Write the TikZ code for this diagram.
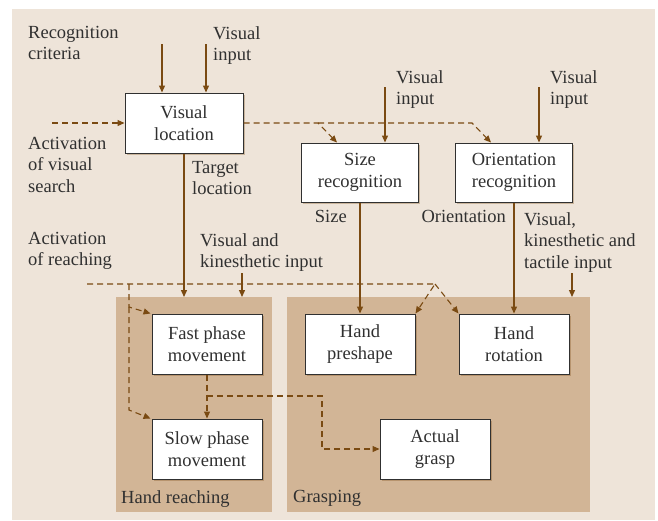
\documentclass[tikz,border=0pt]{standalone}
\usepackage{fontspec}
\setmainfont{Liberation Serif}
\usetikzlibrary{arrows.meta,shadows,positioning}
\definecolor{bgbeige}{HTML}{EEE4D9}
\definecolor{paneltan}{HTML}{D2B596}
\definecolor{arrowbrown}{HTML}{7A4A12}
\definecolor{txtgray}{HTML}{303030}

\begin{document}
\begin{tikzpicture}[x=1pt,y=-1pt,
	font=\fontsize{18.5}{21.5}\selectfont, text=txtgray,
	box/.style={draw=txtgray, line width=1pt, fill=white, align=center, inner sep=0pt,
		minimum width=110pt, minimum height=60pt,
		drop shadow={shadow xshift=1.5pt, shadow yshift=-1.5pt, fill=arrowbrown, opacity=0.3}},
	panel/.style={fill=paneltan, inner sep=0pt, anchor=north west},
	lbl/.style={anchor=north west, align=left, inner sep=0pt},
	flow/.style={draw=arrowbrown, line width=1.3pt, -{Triangle[length=7pt,width=6pt]}},
	ctrl/.style={flow, line width=1.1pt, dash pattern=on 6pt off 4pt}]
				\useasboundingbox (0,0) rectangle (658,520);
				\fill[bgbeige] (12,9) rectangle (655,520);
				% panels
				\node[panel, minimum width=156pt, minimum height=215pt] (reach) at (116,297) {};
				\node[panel, minimum width=303pt, minimum height=215pt] (grasping) at (287,297) {};
				\node[lbl] (reachlbl) at (121,490) {Hand reaching};
				\node[lbl] (grasplbl) at (293,490) {Grasping};
				% boxes
				\node[box, minimum width=118pt] (vloc) at (184,123) {Visual\\location};
				\node[box, minimum width=117pt, minimum height=59pt] (size) at (360,172.5) {Size\\recognition};
				\node[box, minimum width=117pt, minimum height=59pt] (orient) at (514,172.5) {Orientation\\recognition};
				\node[box] (fast) at (207,344) {Fast phase\\movement};
				\node[box] (slow) at (207,449) {Slow phase\\movement};
				\node[box] (preshape) at (360,344) {Hand\\preshape};
				\node[box] (rotation) at (514,344) {Hand\\rotation};
				\node[box] (grasp) at (435,449) {Actual\\grasp};
				% labels
				\node[lbl] (critlbl) at (28,26) {Recognition\\criteria};
				\node[lbl] (vin1) at (213,26) {Visual\\input};
				\node[lbl] (actvislbl) at (28,137) {Activation\\of visual\\search};
				\node[lbl] (tgtlbl) at (192,161) {Target\\location};
				\node[lbl] (actreachlbl) at (28,232) {Activation\\of reaching};
				\node[lbl] (vkin) at (200,233) {Visual and\\kinesthetic input};
				\node[lbl] (vin2) at (396,70) {Visual\\input};
				\node[lbl] (vin3) at (550,70) {Visual\\input};
				\node[lbl, anchor=north east] (sizelbl) at (347,210) {Size};
				\node[lbl, anchor=north east] (orientlbl) at (506,210) {Orientation};
				\node[lbl] (vkt) at (524,212) {Visual,\\kinesthetic and\\tactile input};
				% free ends
				\coordinate (crit) at (162,44);
				\coordinate (vis1) at (206,44);
				\coordinate (vis2) at (385,87);
				\coordinate (vis3) at (539,87);
				\coordinate (kin) at (242,273);
				\coordinate (tact) at (572,273);
				\coordinate (actvis) at (52,123);
				\coordinate (actreach) at (87,284);
				% solid arrows
				\draw[flow] (crit) -- (crit |- vloc.north);
				\draw[flow] (vis1) -- (vis1 |- vloc.north);
				\draw[flow] (vis2) -- (vis2 |- size.north);
				\draw[flow] (vis3) -- (vis3 |- orient.north);
				\draw[flow] (vloc.south) -- (vloc.south |- reach.north);
				\draw[flow] (kin) -- (kin |- reach.north);
				\draw[flow] (tact) -- (tact |- grasping.north);
				\draw[flow] (size.south) -- (preshape.north);
				\draw[flow] (orient.south) -- (rotation.north);
				% dashed arrows
				\draw[ctrl] (actvis) -- (vloc.west);
				\draw[ctrl] (vloc.east) -- (318,123) -- ([xshift=36pt]size.north west);
				\draw[ctrl] (318,123) -- (472,123) -- ([xshift=36pt]orient.north west);
				\draw[ctrl] (actreach) -- (435,284) -- (preshape.north east);
				\draw[ctrl] (435,284) -- (rotation.north west);
				\draw[ctrl] (129,284) -- (129,307) -- ([xshift=-1pt]fast.north west);
				\draw[ctrl] (129,307) -- (129,410) -- ([xshift=-1pt]slow.north west);
				\draw[ctrl] (fast.south) -- (slow.north);
				\draw[ctrl] (207,396) -- (322,396) -- (322,449) -- (grasp.west);
			\end{tikzpicture}
\end{document}
